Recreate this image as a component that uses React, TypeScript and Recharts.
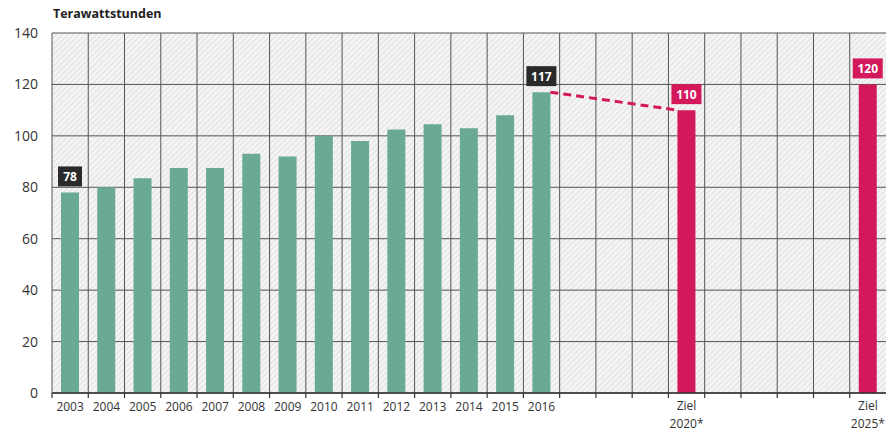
import { ComposedChart, Bar, Cell, LabelList, XAxis, YAxis, CartesianGrid } from 'recharts';

const years = ['2003', '2004', '2005', '2006', '2007', '2008', '2009', '2010', '2011', '2012', '2013', '2014', '2015', '2016', '2017', '2018', '2019', '2020', '2021', '2022', '2023', '2024', '2025'];
const tickLabels = ['2003', '2004', '2005', '2006', '2007', '2008', '2009', '2010', '2011', '2012', '2013', '2014', '2015', '2016', '', '', '', 'Ziel\n2020*', '', '', '', '', 'Ziel\n2025*'];
const values = [78, 80, 83.5, 87.5, 87.5, 93, 92, 100, 98, 102.5, 104.5, 103, 108, 117, null, null, null, 110, null, null, null, null, 120];
const targets = ['2020', '2025'];
const labelled = ['2003', '2016', '2020', '2025'];
const linkFrom = '2016';
const linkTo = '2020';
const yTicks = [0, 20, 40, 60, 80, 100, 120, 140];

const data = years.map((year, i) => ({ year, value: values[i] }));

const W = 886;
const H = 437;
const LEFT = 52;
const BW = (W - LEFT) / years.length;
const TEAL = '#6aa996';
const PINK = '#d4185c';
const FONT = '"Open Sans", sans-serif';

const XTick = (props: any) => {
    const { x, y, payload } = props;
    const idx = years.indexOf(payload.value);
    const lines = (tickLabels[idx] || '').split('\n').filter(Boolean);
    const first = lines.length > 1 ? 17 : 18;
    return (
        <g>
            <line x1={x - BW / 2} x2={x - BW / 2} y1={y} y2={y + 5} stroke="#333" strokeWidth={1.2} />
            <text x={x} y={y} textAnchor="middle" fontFamily={FONT} fontSize={12} fill="#333">
                {lines.map((l, i) => (
                    <tspan key={i} x={x} dy={i === 0 ? first : 18}>{l}</tspan>
                ))}
            </text>
        </g>
    );
};

// label boxes, plus the dashed link from the last actual value to the 2020 target
const Badge = (props: any) => {
    const { x, y, width, height, value } = props;
    const idx = Math.round((x + width / 2 - LEFT) / BW - 0.5);
    const year = years[idx];
    if (!labelled.includes(year) || value == null) return null;
    const text = String(value);
    const bw = text.length > 2 ? 30 : 24;
    const bh = 20;
    const cx = x + width / 2;
    const top = y - 6 - bh;
    const fill = targets.includes(year) ? PINK : '#2a2a2a';
    let link = null;
    if (year === linkFrom) {
        const toIdx = years.indexOf(linkTo);
        const toVal = values[toIdx] as number;
        const base = y + height;
        const ty = base - (toVal / (value as number)) * height;
        const tx = x + (toIdx - idx) * BW;
        link = <line x1={x + width} y1={y} x2={tx} y2={ty} stroke={PINK} strokeWidth={3} strokeDasharray="8 5" />;
    }
    return (
        <g>
            {link}
            <rect x={cx - bw / 2} y={top} width={bw} height={bh} fill={fill} />
            <text x={cx} y={top + 14.5} textAnchor="middle" fontFamily={FONT} fontWeight="bold" fontSize={12} fill="#fff">{text}</text>
        </g>
    );
};

export default function App() {
    return (
        <div style={{ position: 'absolute', left: 0, top: 0, width: W, height: H, background: '#fff' }}>
            <svg width={0} height={0} style={{ position: 'absolute' }}>
                <defs>
                    <pattern id="hatch" width="4" height="4" patternUnits="userSpaceOnUse" patternTransform="rotate(45)">
                        <rect width="4" height="4" fill="#f4f4f4" />
                        <line x1="0" y1="0" x2="0" y2="4" stroke="#d9d9d9" strokeWidth={1.4} />
                    </pattern>
                </defs>
            </svg>
            <div style={{ position: 'absolute', left: 53, top: 5, fontFamily: FONT, fontWeight: 'bold', fontSize: 12.5, color: '#222' }}>
                Terawattstunden
            </div>
            <ComposedChart width={W} height={H} data={data} margin={{ top: 33, right: 0, left: 0, bottom: 0 }} barSize={18}>
                <CartesianGrid
                    fill="url(#hatch)"
                    stroke="#555"
                    strokeWidth={1}
                    verticalCoordinatesGenerator={({ offset }: any) =>
                        years.map((_, i) => offset.left + (i * offset.width) / years.length)
                    }
                />
                <XAxis
                    dataKey="year"
                    interval={0}
                    tickLine={false}
                    tickSize={0}
                    tickMargin={0}
                    height={44}
                    axisLine={{ stroke: '#333', strokeWidth: 1.5 }}
                    tick={<XTick />}
                />
                <YAxis
                    domain={[0, 140]}
                    ticks={yTicks}
                    width={LEFT}
                    axisLine={false}
                    tickLine={false}
                    tickSize={0}
                    tickMargin={14}
                    tick={{ fill: '#333', fontSize: 14, fontFamily: FONT }}
                />
                <Bar dataKey="value" isAnimationActive={false}>
                    {data.map((d) => (
                        <Cell key={d.year} fill={targets.includes(d.year) ? PINK : TEAL} />
                    ))}
                    <LabelList dataKey="value" content={<Badge />} />
                </Bar>
            </ComposedChart>
        </div>
    );
}
